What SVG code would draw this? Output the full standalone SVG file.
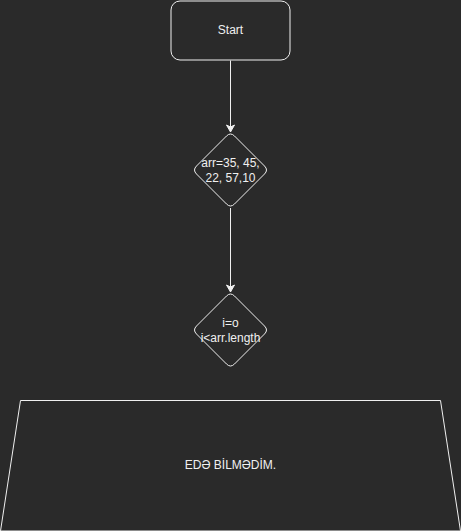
<svg xmlns="http://www.w3.org/2000/svg" width="461" height="531" viewBox="0 0 461 531">
<style>
.shape{fill:#2a2a2a;stroke:#f0f0f0;stroke-width:1}
.lbl{font-family:"Liberation Sans",Arial,sans-serif;font-size:12px;fill:#f0f0f0;text-anchor:middle}
.edge{fill:none;stroke:#f0f0f0;stroke-width:1}
</style>
<defs>
<marker id="arr" markerWidth="10" markerHeight="10" refX="8" refY="5" orient="auto" markerUnits="userSpaceOnUse">
<path d="M1,1 L8,5 L1,9 L3,5 Z" fill="#f0f0f0" stroke="#f0f0f0" stroke-width="1"/>
</marker>
</defs>
<rect width="461" height="531" fill="#2a2a2a"/>
<g id="connectors">
<path class="edge" d="M230.5,60.5 L230.5,132" marker-end="url(#arr)"/>
<path class="edge" d="M230.5,208 L230.5,292" marker-end="url(#arr)"/>
</g>
<g id="start">
<rect class="shape" x="171" y="1" width="119" height="59" rx="9" ry="9"/>
<text class="lbl" x="230.5" y="34">Start</text>
</g>
<g id="arrInit">
<path class="shape" d="M226.5,136 Q230.5,132 234.5,136 L264.5,166 Q268.5,170 264.5,174 L234.5,204 Q230.5,208 226.5,204 L196.5,174 Q192.5,170 196.5,166 Z"/>
<text class="lbl" x="230.5" y="167">arr=35, 45,</text>
<text class="lbl" x="230.5" y="182">22, 57,10</text>
</g>
<g id="loop">
<path class="shape" d="M226.5,296 Q230.5,292 234.5,296 L264.5,326 Q268.5,330 264.5,334 L234.5,364 Q230.5,368 226.5,364 L196.5,334 Q192.5,330 196.5,326 Z"/>
<text class="lbl" x="230.5" y="327">i=o</text>
<text class="lbl" x="230.5" y="342">i&lt;arr.length</text>
</g>
<g id="trap">
<path class="shape" d="M20.5,400.5 L440.5,400.5 L460.5,531 L0.5,531 Z"/>
<text class="lbl" x="230.5" y="469">EDƏ BİLMƏDİM.</text>
</g>
</svg>
